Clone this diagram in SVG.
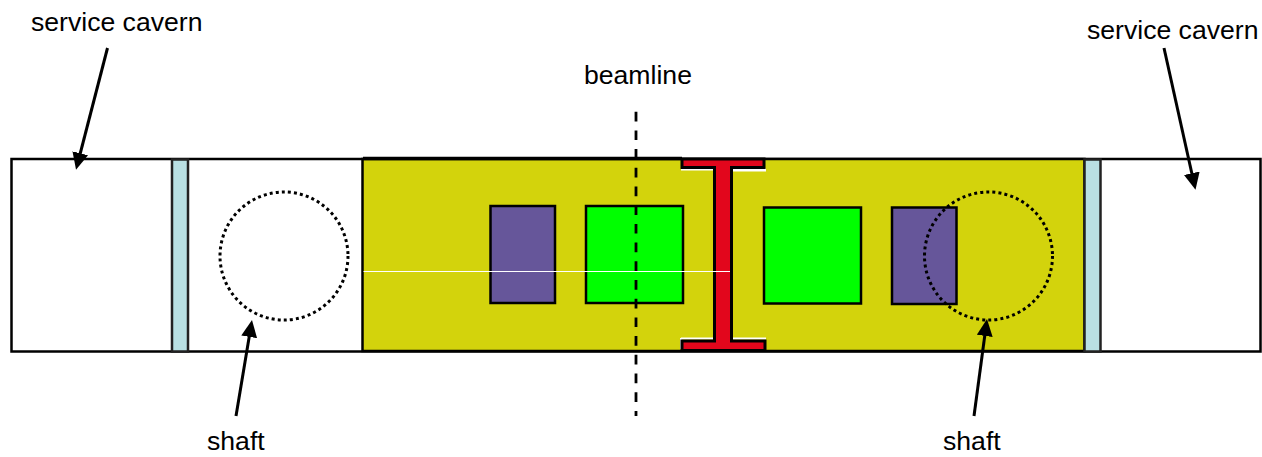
<svg xmlns="http://www.w3.org/2000/svg" width="1262" height="457" viewBox="0 0 1262 457">
<style>
.o{stroke:#000;stroke-width:2.5}
.hall{fill:#d3d30c;stroke:#000;stroke-width:2.5}
.shaftwall{fill:#b9e0e3;stroke:#222;stroke-width:2.5}
.mag{fill:#66569a;stroke:#000;stroke-width:2.5}
.coil{fill:#00ff00;stroke:#000;stroke-width:2.5}
.iron{fill:#e2061c;stroke:#000;stroke-width:3}
.circ{fill:none;stroke:#000;stroke-width:3;stroke-dasharray:3 3.1}
.arr{fill:none;stroke:#000;stroke-width:3;marker-end:url(#ah)}
text{font-family:"Liberation Sans",Arial,sans-serif;font-size:26.6px;fill:#000}
</style>
<defs>
<marker id="ah" markerUnits="userSpaceOnUse" markerWidth="18" markerHeight="18" refX="11" refY="8" orient="auto"><path d="M0 0L17 8L0 16z" fill="#000"/></marker>
</defs>
<g id="cavern-band"><rect x="11.500" y="159" width="1249" height="192.500" fill="#fff" class="o"/></g>
<g id="experiment-hall">
<rect x="362.500" y="159" width="722" height="192" class="hall"/>
<path d="M363 158.500H682" stroke="#000" stroke-width="3.500"/>
</g>
<g id="wall-left"><rect x="172" y="159.500" width="16" height="192" class="shaftwall"/></g>
<g id="wall-right"><rect x="1084.500" y="159.500" width="16" height="192" class="shaftwall"/></g>
<g id="magnet-left"><rect x="490.500" y="206" width="64.500" height="97" class="mag"/></g>
<g id="coil-left"><rect x="586" y="206" width="97" height="97" class="coil"/></g>
<g id="iron-beam">
<path d="M681 169.500H713M733 170H766M681 338.500H766M681 338V349" fill="none" stroke="#fff" stroke-width="2"/>
<path d="M733 170H766" fill="none" stroke="#fff" stroke-width="3"/>
<path d="M682 159H764V167.500H731.500V341H765V350.500H682V341H714.500V167.500H682Z" class="iron"/>
</g>
<g id="coil-right"><rect x="764" y="207.500" width="97" height="96" class="coil"/></g>
<g id="magnet-right"><rect x="892" y="207.500" width="64.500" height="96.500" class="mag"/></g>
<g id="shaft-left"><circle cx="284" cy="256" r="64" class="circ"/></g>
<g id="shaft-right"><circle cx="988.500" cy="256" r="64" class="circ"/></g>
<g id="connectors">
<path d="M636 111.700V416" fill="none" stroke="#000" stroke-width="2.800" stroke-dasharray="9.700 9"/>
<path d="M107.500 48L77.500 164" class="arr"/>
<path d="M1164 48L1194.200 184" class="arr"/>
<path d="M236 416L251 326" class="arr"/>
<path d="M974 416L986.200 325" class="arr"/>
</g>
<path id="beam-axis" d="M363.500 271.500H730" stroke="#fff" stroke-width="1"/>
<g id="labels">
<text x="31" y="31">service cavern</text>
<text x="1087" y="38.500">service cavern</text>
<text x="584" y="83.500">beamline</text>
<text x="207" y="449.500">shaft</text>
<text x="943" y="449.500">shaft</text>
</g>
</svg>
